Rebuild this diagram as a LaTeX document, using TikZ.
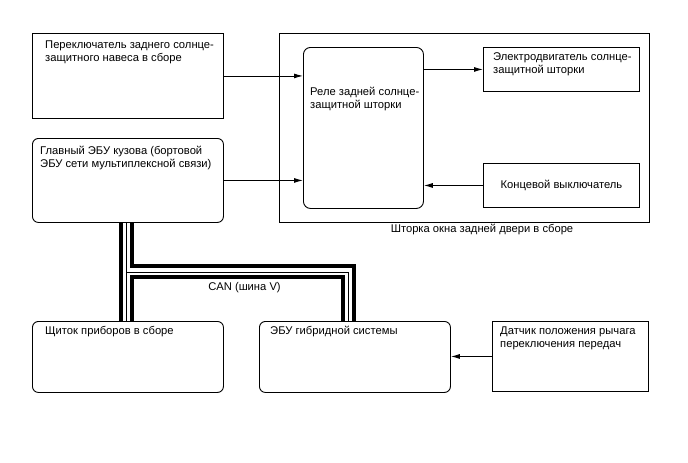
\documentclass[tikz,border=0pt]{standalone}
\usepackage{fontspec}
\setmainfont{Liberation Sans}
\usetikzlibrary{arrows.meta,positioning,calc}
\tikzset{
  unit/.style={
    rectangle,
    draw=black,
    line width=0.9pt,
    fill=white,
    inner sep=0pt,
    anchor=north west
  },
  ecu/.style={unit,rounded corners=6pt},
  tag/.style={
    anchor=north west,
    align=left,
    inner sep=0pt,
    font=\fontsize{11.2}{13}\selectfont
  },
  arrow/.style={-{Latex[length=9pt,width=5pt]},line width=0.9pt},
  buswide/.style={line width=15pt,draw=black},
  busgap/.style={line width=7pt,draw=white},
  buscore/.style={line width=0.9pt,draw=black}
}

\begin{document}
\begin{tikzpicture}[x=1pt,y=-1pt]
    \useasboundingbox (0,0) rectangle (688,463);

    % shade assembly frame
    \node[unit,minimum width=370pt,minimum height=189pt] (frame) at (279,33) {};
    \node[tag,anchor=center] (frameT) at (482,230) {Шторка окна задней двери в сборе};

    \node[unit,minimum width=191pt,minimum height=85pt] (sw) at (32,33) {};
    \node[ecu,rounded corners=7pt,minimum width=120pt,minimum height=161pt] (relay) at (303,47) {};
    \node[unit,minimum width=156pt,minimum height=44pt] (motor) at (483,47) {};
    \node[unit,minimum width=156pt,minimum height=44pt] (limit) at (483,163) {};
    \node[ecu,minimum width=191pt,minimum height=84pt] (body) at (32,138) {};
    \node[ecu,minimum width=191pt,minimum height=71pt] (meter) at (32,321) {};
    \node[ecu,minimum width=191pt,minimum height=71pt] (hv) at (259,321) {};
    \node[unit,minimum width=156pt,minimum height=70pt] (shift) at (492,321) {};

    \node[tag] (swT) at ([shift={(13,8)}]sw.north west) {Переключатель заднего солнце-\\защитного навеса в сборе};
    \node[tag] (relayT) at ([shift={(7,40)}]relay.north west) {Реле задней солнце-\\защитной шторки};
    \node[tag] (motorT) at ([shift={(10,5)}]motor.north west) {Электродвигатель солнце-\\защитной шторки};
    \node[tag,anchor=center] (limitT) at (limit.center) {Концевой выключатель};
    \node[tag] (bodyT) at ([shift={(8,8)}]body.north west) {Главный ЭБУ кузова (бортовой\\ЭБУ сети мультиплексной связи)};
    \node[tag] (meterT) at ([shift={(13,5)}]meter.north west) {Щиток приборов в сборе};
    \node[tag] (hvT) at ([shift={(11,5)}]hv.north west) {ЭБУ гибридной системы};
    \node[tag] (shiftT) at ([shift={(8,6)}]shift.north west) {Датчик положения рычага\\переключения передач};

    \draw[arrow] (sw.east) -- (sw.east -| relay.west);
    \draw[arrow] (body.east) -- (body.east -| relay.west);
    \draw[arrow] (relay.east |- motor.west) -- (motor.west);
    \draw[arrow] (limit.west) -- (limit.west -| relay.east);
    \draw[arrow] (shift.west) -- (shift.west -| hv.east);

    % CAN bus
    \coordinate (top) at ([xshift=-1.5pt]body.south);
    \coordinate (bot) at ([xshift=-1.5pt]meter.north);
    \coordinate (tap) at ($(top)!0.5!(bot)$);
    \coordinate (bend) at (348,0 |- tap);
    \coordinate (drop) at (bend |- hv.north);
    \foreach \layer in {buswide,busgap,buscore} {
      \draw[\layer] (top) -- (bot);
      \draw[\layer] (tap) -- (bend) -- (drop);
    }
    \node[tag,anchor=center] (canT) at (244.5,288) {CAN (шина V)};
  \end{tikzpicture}
\end{document}
